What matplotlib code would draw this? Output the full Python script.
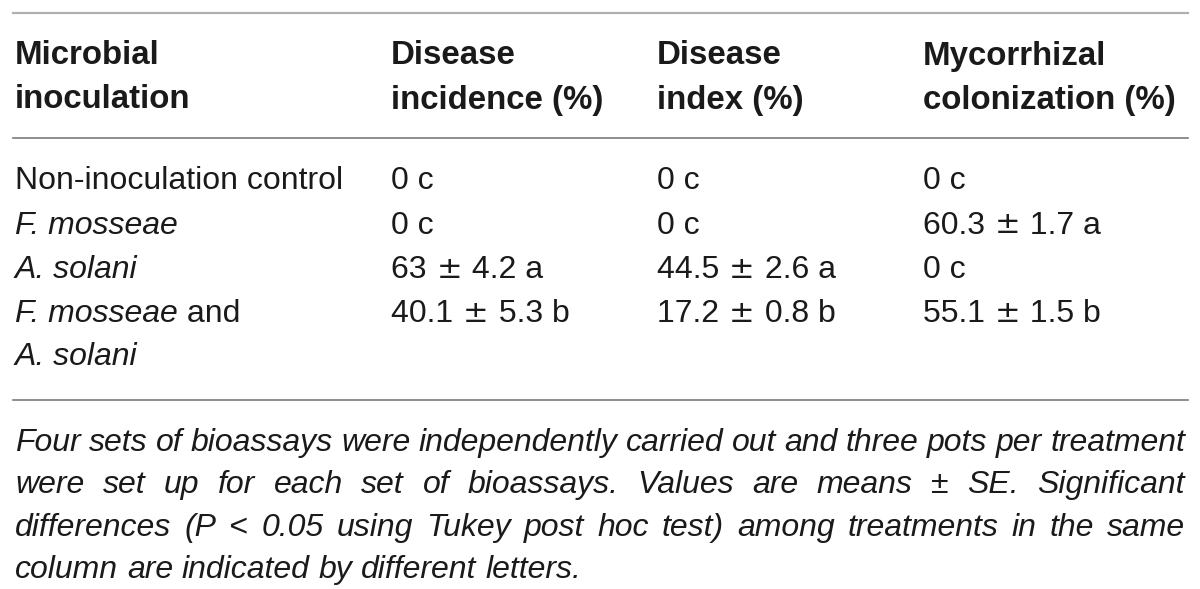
import matplotlib
matplotlib.use("Agg")
import matplotlib.pyplot as plt
from matplotlib.lines import Line2D

W, H = 1200, 589

headers = [["Microbial", "inoculation"],
           ["Disease", "incidence (%)"],
           ["Disease", "index (%)"],
           ["Mycorrhizal", "colonization (%)"]]

# treatment names: list of (text, italic) pieces per line
treatments = [
    [[("Non-inoculation control", False)]],
    [[("F. mosseae", True)]],
    [[("A. solani", True)]],
    [[("F. mosseae", True), (" and", False)], [("A. solani", True)]],
]
incidence = ["0 c", "0 c", "63 \u00b1 4.2 a", "40.1 \u00b1 5.3 b"]
index = ["0 c", "0 c", "44.5 \u00b1 2.6 a", "17.2 \u00b1 0.8 b"]
colonization = ["0 c", "60.3 \u00b1 1.7 a", "0 c", "55.1 \u00b1 1.5 b"]

footnote = [
    "Four sets of bioassays were independently carried out and three pots per treatment",
    "were set up for each set of bioassays. Values are means \u00b1 SE. Significant",
    "differences (P < 0.05 using Tukey post hoc test) among treatments in the same",
    "column are indicated by different letters.",
]

plt.rcParams['font.family'] = ['Liberation Sans', 'DejaVu Sans']
FS = 23
FS_HEAD = 23.8
TXT = '#1a1a1a'

fig = plt.figure(figsize=(W / 100, H / 100), dpi=100)
fig.patch.set_facecolor('white')
renderer = fig.canvas.get_renderer()


def fx(x):
    return x / W


def fy(y):
    return 1 - y / H


def put(x, y, s, size=FS, **kw):
    return fig.text(fx(x), fy(y), s, fontsize=size, color=TXT, va='center', ha='left', **kw)


def width(t):
    return t.get_window_extent(renderer=renderer).width


def put_value(x, y, s):
    # the plus-minus sign is a wider, thinner glyph in the reference
    parts = s.split(' \u00b1 ')
    if len(parts) == 1:
        put(x, y, s)
        return
    t = put(x, y, parts[0] + ' ')
    x += width(t) + 1
    t = put(x, y - 1, '\u00b1', size=22, family='DejaVu Sans')
    x += width(t) + 1
    put(x, y, ' ' + parts[1])


def hline(y, color, lw):
    fig.add_artist(Line2D([fx(13), fx(1188)], [fy(y), fy(y)], color=color, lw=lw))


hline(13, '#b0b0b0', 1.6)
hline(138, '#7a7a7a', 1.2)
hline(400, '#7a7a7a', 1.2)

col_x = [15, 391, 657, 923]
for cx, (l1, l2) in zip(col_x, headers):
    put(cx, 56, l1, size=FS_HEAD, fontweight='bold')
    put(cx, 100, l2, size=FS_HEAD, fontweight='bold')

row_y = [181, 226, 270, 314]
line_gap = 43
for i, y in enumerate(row_y):
    for k, line in enumerate(treatments[i]):
        x = col_x[0]
        for piece, ital in line:
            t = put(x, y + k * line_gap, piece, fontstyle='italic' if ital else 'normal')
            x += width(t)
    put_value(col_x[1], y, incidence[i])
    put_value(col_x[2], y, index[i])
    put_value(col_x[3], y, colonization[i])

# justified footnote
left, right = 15, 1185
foot_y = [443, 485, 528, 570]
for j, (line, y) in enumerate(zip(footnote, foot_y)):
    words = line.split(' ')
    arts = [put(0, y, w, fontstyle='italic') for w in words]
    ws = [width(a) for a in arts]
    if j < len(footnote) - 1 and len(words) > 1:
        gap = (right - left - sum(ws)) / (len(words) - 1)
    else:
        sp = put(0, y, 'a a', fontstyle='italic')
        sp2 = put(0, y, 'aa', fontstyle='italic')
        gap = width(sp) - width(sp2)
        sp.remove()
        sp2.remove()
    x = left
    for a, w in zip(arts, ws):
        a.set_x(fx(x))
        x += w + gap

fig.savefig('out.png', dpi=100, facecolor='white')
